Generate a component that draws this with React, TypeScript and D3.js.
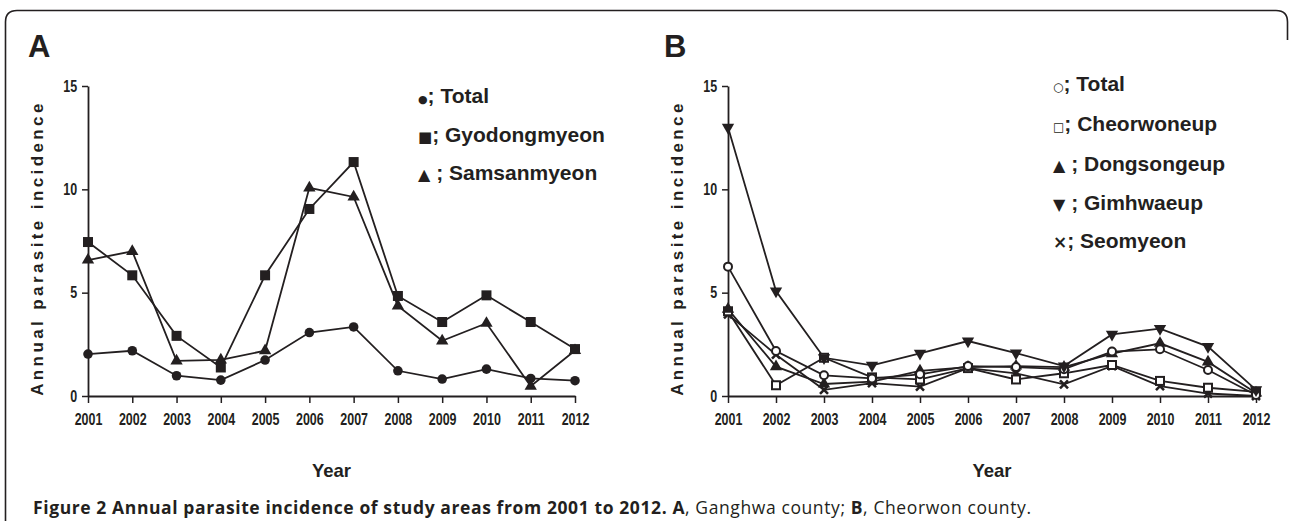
import React, { useEffect, useRef } from "react";
import * as d3 from "d3";

const YEARS = [2001, 2002, 2003, 2004, 2005, 2006, 2007, 2008, 2009, 2010, 2011, 2012];
const Y_TICKS = [0, 5, 10, 15];

// Panel A - Ganghwa county
const GANGHWA_TOTAL = [2.03, 2.19, 0.98, 0.77, 1.74, 3.07, 3.34, 1.22, 0.82, 1.3, 0.85, 0.74];
const GYODONGMYEON = [7.45, 5.84, 2.91, 1.38, 5.84, 9.05, 11.32, 4.84, 3.58, 4.87, 3.58, 2.27];
const SAMSANMYEON = [6.58, 7.0, 1.7, 1.75, 2.19, 10.07, 9.63, 4.36, 2.67, 3.52, 0.47, 2.2];

// Panel B - Cheorwon county
const CHEORWON_TOTAL = [6.26, 2.18, 1.0, 0.85, 1.05, 1.45, 1.4, 1.3, 2.15, 2.26, 1.26, 0.05];
const CHEORWONEUP = [4.1, 0.52, 1.85, 0.9, 0.8, 1.35, 0.8, 1.1, 1.5, 0.73, 0.4, 0.2];
const DONGSONGEUP = [4.2, 1.42, 0.58, 0.7, 1.22, 1.4, 1.45, 1.4, 2.05, 2.55, 1.65, 0.15];
const GIMHWAEUP = [13.0, 5.08, 1.85, 1.48, 2.06, 2.66, 2.08, 1.45, 2.98, 3.26, 2.39, 0.3];
const SEOMYEON = [3.95, 2.0, 0.3, 0.62, 0.45, 1.35, 1.1, 0.56, 1.45, 0.48, 0.12, 0.0];

const LEGEND_A = ["\u25CF; Total", "\u25A0; Gyodongmyeon", "\u25B2 ; Samsanmyeon"];
const LEGEND_B = ["\u25CB; Total", "\u25A1; Cheorwoneup", "\u25B2 ; Dongsongeup", "\u25BC ; Gimhwaeup", "\u00D7; Seomyeon"];

const INK = "#231f20";
const SANS = "'Liberation Sans', Arial, Helvetica, sans-serif";

// size of the symbol glyph in front of each legend label
const GLYPH_SIZE: Record<string, number> = {
  "\u25CF": 11, "\u25CB": 12, "\u25A0": 15, "\u25A1": 12,
  "\u25B2": 16, "\u25BC": 16, "\u00D7": 17,
};

type Marker = "dot" | "square" | "triangle" | "ring" | "box" | "down" | "cross";

interface Series {
  values: number[];
  marker: Marker;
}

interface PanelOpts {
  letter: string;
  x0: number;
  x1: number;
  letterX: number;
  titleX: number;
  legendX: number;
  legendY: number[];
  legend: string[];
  series: Series[];
}

function drawMarker(g: any, kind: Marker, cx: number, cy: number) {
  if (kind === "dot") {
    g.append("circle").attr("cx", cx).attr("cy", cy).attr("r", 4.8).attr("fill", INK);
  } else if (kind === "square") {
    g.append("rect").attr("x", cx - 5).attr("y", cy - 5).attr("width", 10).attr("height", 10).attr("fill", INK);
  } else if (kind === "ring") {
    g.append("circle").attr("cx", cx).attr("cy", cy).attr("r", 4).attr("fill", "#fff")
      .attr("stroke", INK).attr("stroke-width", 2);
  } else if (kind === "box") {
    g.append("rect").attr("x", cx - 4).attr("y", cy - 4).attr("width", 8).attr("height", 8)
      .attr("fill", "#fff").attr("stroke", INK).attr("stroke-width", 2);
  } else if (kind === "triangle" || kind === "down") {
    const sym = d3.symbol().type(d3.symbolTriangle).size(66)();
    g.append("path")
      .attr("d", sym)
      .attr("transform", `translate(${cx},${cy}) rotate(${kind === "down" ? 180 : 0})`)
      .attr("fill", INK);
  } else if (kind === "cross") {
    g.append("path")
      .attr("d", `M${cx - 4},${cy - 4}L${cx + 4},${cy + 4}M${cx - 4},${cy + 4}L${cx + 4},${cy - 4}`)
      .attr("stroke", INK).attr("stroke-width", 2.6);
  }
}

function styleAxis(a: any) {
  a.select(".domain").attr("stroke", INK).attr("stroke-width", 1.8);
  a.selectAll(".tick line").attr("stroke", INK).attr("stroke-width", 1.5);
  a.selectAll(".tick text")
    .attr("fill", INK)
    .attr("transform", "scale(0.78,1)")
    .style("font-family", SANS).style("font-weight", 700).style("font-size", "16px");
}

function drawPanel(svg: any, o: PanelOpts) {
  const yTop = 86, yBottom = 396;
  const x = d3.scalePoint<number>().domain(YEARS).range([o.x0, o.x1]);
  const y = d3.scaleLinear().domain([0, 15]).range([yBottom, yTop]);

  const g = svg.append("g");

  // panel letter
  g.append("text")
    .attr("x", o.letterX).attr("y", 57)
    .attr("fill", INK)
    .style("font-family", SANS).style("font-weight", 700).style("font-size", "31px")
    .text(o.letter);

  // axes
  g.append("g")
    .attr("transform", `translate(${o.x0},0)`)
    .call(d3.axisLeft(y).tickValues(Y_TICKS).tickSize(6).tickSizeOuter(0).tickPadding(8))
    .call(styleAxis);

  g.append("g")
    .attr("transform", `translate(0,${yBottom})`)
    .call(d3.axisBottom(x).tickSize(7).tickSizeOuter(0).tickPadding(11))
    .call(styleAxis);

  // axis titles
  g.append("text")
    .attr("x", (o.x0 + o.x1) / 2).attr("y", 477)
    .attr("text-anchor", "middle")
    .attr("fill", INK)
    .style("font-family", SANS).style("font-weight", 700).style("font-size", "18.5px")
    .text("Year");

  g.append("text")
    .attr("transform", `translate(${o.titleX},248) rotate(-90)`)
    .attr("text-anchor", "middle")
    .attr("fill", INK)
    .style("font-family", SANS).style("font-weight", 700).style("font-size", "17px")
    .style("letter-spacing", "3.4px")
    .text("Annual parasite incidence");

  // lines + markers
  const line = d3.line<number>()
    .x((_, i) => x(YEARS[i]) as number)
    .y((d) => y(d));

  o.series.forEach((s) => {
    g.append("path")
      .attr("d", line(s.values))
      .attr("fill", "none")
      .attr("stroke", INK)
      .attr("stroke-width", 1.8);
  });
  o.series.forEach((s) => {
    const mg = g.append("g");
    s.values.forEach((v, i) => drawMarker(mg, s.marker, x(YEARS[i]) as number, y(v)));
  });

  // legend: small symbol glyph, then the label
  o.legend.forEach((t, i) => {
    const sym = t.charAt(0);
    const txt = g.append("text")
      .attr("x", o.legendX).attr("y", o.legendY[i])
      .attr("dy", "0.36em")
      .attr("fill", INK)
      .style("font-family", SANS).style("font-weight", 700).style("font-size", "21px");
    txt.append("tspan")
      .style("font-family", "'DejaVu Sans', sans-serif")
      .style("font-size", `${GLYPH_SIZE[sym] || 14}px`)
      .text(sym);
    txt.append("tspan").text(t.slice(1));
  });
}

export default function App() {
  const svgRef = useRef<SVGSVGElement | null>(null);

  useEffect(() => {
    document.body.style.margin = "0";
    const svg = d3.select(svgRef.current);
    svg.selectAll("*").remove();

    svg.append("rect").attr("width", 1289).attr("height", 521).attr("fill", "#fff");

    // frame (open at the bottom)
    svg.append("path")
      .attr("d", "M5.5,521 V22 Q5.5,10.5 17,10.5 H1276 Q1287.5,10.5 1287.5,22 V40")
      .attr("fill", "none")
      .attr("stroke", INK)
      .attr("stroke-width", 1.6);

    drawPanel(svg, {
      letter: "A",
      x0: 88,
      x1: 575,
      letterX: 28,
      titleX: 43,
      legendX: 418,
      legendY: [95, 134, 172],
      legend: LEGEND_A,
      series: [
        { values: GANGHWA_TOTAL, marker: "dot" },
        { values: GYODONGMYEON, marker: "square" },
        { values: SAMSANMYEON, marker: "triangle" },
      ],
    });

    drawPanel(svg, {
      letter: "B",
      x0: 728,
      x1: 1256,
      letterX: 664,
      titleX: 683,
      legendX: 1053,
      legendY: [83, 123, 163, 202, 240],
      legend: LEGEND_B,
      series: [
        { values: SEOMYEON, marker: "cross" },
        { values: CHEORWONEUP, marker: "box" },
        { values: DONGSONGEUP, marker: "triangle" },
        { values: CHEORWON_TOTAL, marker: "ring" },
        { values: GIMHWAEUP, marker: "down" },
      ],
    });

    // caption
    const cap = svg.append("text")
      .attr("x", 33).attr("y", 514)
      .attr("fill", INK)
      .style("font-family", "'Open Sans', sans-serif")
      .style("font-size", "17.5px")
      .style("letter-spacing", "0.6px");
    cap.append("tspan").style("font-weight", 700)
      .text("Figure 2 Annual parasite incidence of study areas from 2001 to 2012. A");
    cap.append("tspan").text(", Ganghwa county; ");
    cap.append("tspan").style("font-weight", 700).text("B");
    cap.append("tspan").text(", Cheorwon county.");
  }, []);

  return <svg ref={svgRef} width={1289} height={521} style={{ display: "block" }} />;
}
